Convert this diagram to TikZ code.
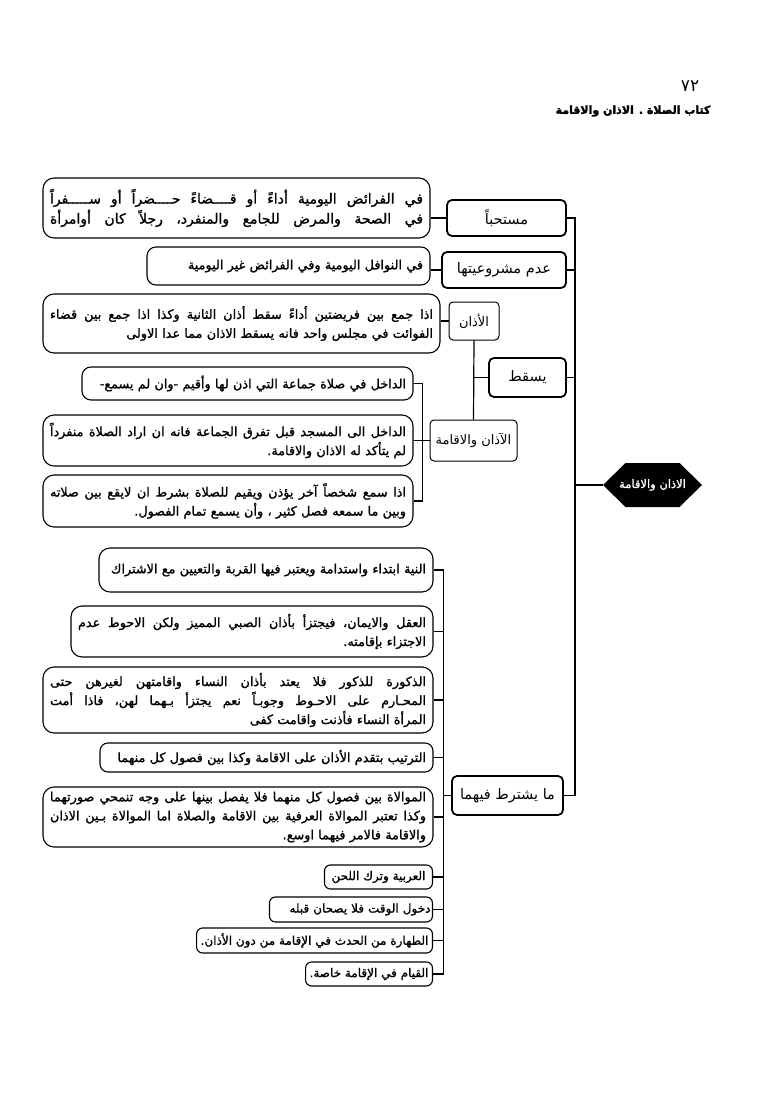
\documentclass[tikz,border=0pt]{standalone}
\usepackage{fontspec}
\setmainfont{DejaVu Sans}
\newfontfamily\arabicfont[Script=Arabic]{DejaVu Sans}
\newfontfamily\arabicbf[Script=Arabic,FakeBold=1.2]{DejaVu Sans}
\newfontfamily\arabicheavy[Script=Arabic,FakeBold=2.5]{DejaVu Sans Bold}
\TeXXeTstate=1
\usetikzlibrary{backgrounds}
\newcommand\AR[1]{\beginR #1\endR}
\newcommand\Ln[1]{\makebox[\linewidth][r]{\AR{#1}}}
\newcommand\Lj[1]{\leavevmode\hbox to \linewidth{\spaceskip=0.32em plus 2em\relax\beginR #1\endR}}
\newcommand\myT{\arabicbf\fontsize{12.8}{19}\selectfont}
\newcommand\myTb{\arabicbf\fontsize{14}{20}\selectfont}
\newcommand\myS{\arabicbf\fontsize{12}{14}\selectfont}
\newcommand\myL{\arabicfont\fontsize{14.5}{17}\selectfont}
\newcommand\myM{\arabicfont\fontsize{13}{15}\selectfont}
\begin{document}
\begin{tikzpicture}[x=1pt,y=-1pt,
  tb/.style n args={2}{draw, line width=1.1pt, rounded corners=11pt, fill=white,
    inner xsep=7pt, inner ysep=0pt, text width=#1, minimum height=#2,
    align=right, font=\myT},
  sb/.style n args={2}{draw, line width=1.1pt, rounded corners=6pt, fill=white,
    inner xsep=4pt, inner ysep=0pt, minimum width=#1, minimum height=#2, font=\myS, anchor=east},
  lone/.style={draw, line width=1.8pt, rounded corners=5pt, fill=white,
    inner sep=0pt, font=\myL},
  ltwo/.style={draw, line width=1pt, rounded corners=4pt, fill=white,
    inner sep=0pt, font=\myM},
  conn/.style={line width=1.2pt},
  busline/.style={line width=1.5pt}]
\useasboundingbox (0,0) rectangle (778,1118);

% header
\node[font=\arabicfont\fontsize{17}{17}\selectfont] (pnum) at (690,86) {٧٢};
\node[font=\arabicheavy\fontsize{11}{11}\selectfont] (head) at (633,111) {\AR{كتاب الصلاة . الاذان والاقامة}};

% root
\node[text=white, font=\arabicbf\fontsize{11.5}{12}\selectfont, inner sep=0pt] (root) at (652.5,485) {\AR{الاذان والاقامة}};
\begin{scope}[on background layer]
\fill ([xshift=-49.5pt]root.center) -- ([xshift=-27pt,yshift=22pt]root.center)
  -- ([xshift=27pt,yshift=22pt]root.center) -- ([xshift=49.5pt]root.center)
  -- ([xshift=27pt,yshift=-22pt]root.center) -- ([xshift=-27pt,yshift=-22pt]root.center) -- cycle;
\end{scope}
\coordinate (rootL) at (603,485);
\coordinate (busx) at (575,0);

% level one
\node[lone, minimum width=119pt, minimum height=36pt] (m1) at (506.5,218) {\AR{مستحباً}};
\node[lone, minimum width=124pt, minimum height=36pt] (m2) at (504,270) {\AR{عدم مشروعيتها}};
\node[lone, minimum width=77pt, minimum height=39pt] (m3) at (527.5,377.5) {\AR{يسقط}};
\node[lone, minimum width=111pt, minimum height=39pt] (m4) at (507.5,795.5) {\AR{ما يشترط فيهما}};

% level two
\node[ltwo, minimum width=50pt, minimum height=38pt] (n1) at (474,321) {\AR{الأذان}};
\node[ltwo, minimum width=87pt, minimum height=41pt] (n2) at (473.5,440.5) {\AR{الآذان والاقامة}};

% text boxes
\node[tb={373pt}{60pt}, font=\myTb] (t1) at (236.5,208) {\Lj{في الفرائض اليومية أداءً أو قــــضاءً حــــضراً أو ســـــفراً}\\\Lj{في الصحة والمرض للجامع والمنفرد، رجلاً كان أوامرأة}};
\node[tb={269pt}{38pt}, rounded corners=9pt] (t2) at (288.5,266) {\Ln{في النوافل اليومية وفي الفرائض غير اليومية}};
\node[tb={383pt}{59pt}] (t3) at (241.5,323.5) {\Lj{اذا جمع بين فريضتين أداءً سقط أذان الثانية وكذا اذا جمع بين قضاء}\\\Ln{الفوائت في مجلس واحد فانه يسقط الاذان مما عدا الاولى}};
\node[tb={317pt}{33pt}, rounded corners=9pt] (ta) at (247.5,383.5) {\Ln{الداخل في صلاة جماعة التي اذن لها وأقيم -وان لم يسمع-\hspace*{10pt}}};
\node[tb={356pt}{51pt}] (tb) at (228,440.5) {\Lj{الداخل الى المسجد قبل تفرق الجماعة فانه ان اراد الصلاة منفرداً}\\\Ln{لم يتأكد له الاذان والاقامة.}};
\node[tb={356pt}{52pt}] (tc) at (228,501) {\Lj{اذا سمع شخصاً آخر يؤذن ويقيم للصلاة بشرط ان لايقع بين صلاته}\\\Ln{وبين ما سمعه فصل كثير ، وأن يسمع  تمام الفصول.}};

\node[tb={320pt}{44pt}] (p1) at (266,570) {\Ln{النية ابتداء واستدامة ويعتبر فيها القربة والتعيين مع الاشتراك}};
\node[tb={348pt}{51pt}] (p2) at (252,631.5) {\Lj{العقل والايمان، فيجتزأ بأذان الصبي المميز ولكن الاحوط عدم}\\\Ln{الاجتزاء بإقامته.}};
\node[tb={376pt}{66pt}] (p3) at (238,700) {\Lj{الذكورة للذكور فلا يعتد بأذان النساء واقامتهن لغيرهن حتى}\\\Lj{المحـارم على الاحـوط وجوبـاً نعم يجتزأ بـهما لهن، فاذا أمت}\\\Ln{المرأة النساء فأذنت واقامت كفى}};
\node[tb={319pt}{29pt}, rounded corners=8pt] (p4) at (266.5,757.5) {\Ln{الترتيب بتقدم الأذان على الاقامة وكذا بين فصول كل منهما\hspace*{8pt}}};
\node[tb={376pt}{60pt}] (p5) at (238,817) {\Lj{الموالاة بين فصول كل منهما فلا يفصل بينها على وجه تنمحي صورتهما}\\\Lj{وكذا تعتبر الموالاة العرفية بين الاقامة والصلاة اما الموالاة بـين الاذان}\\\Ln{والاقامة فالامر فيهما اوسع.}};
\node[sb={108pt}{24pt}] (p6) at (433,877) {\AR{العربية وترك اللحن}};
\node[sb={163pt}{25pt}, inner xsep=2pt, align=right, text width=159pt] (p7) at (433,909.5) {\AR{دخول الوقت فلا يصحان قبله}};
\node[sb={228pt}{25pt}] (p8) at (433,940.5) {\AR{الطهارة من الحدث في الإقامة من دون الأذان.}};
\node[sb={108pt}{24pt}] (p9) at (433,974) {\AR{القيام في الإقامة خاصة.}};

% connectors: main bus
\draw[busline] (m1.east) -- (m1.east -| busx) |- (m4.east);
\draw[conn] (m2.east) -- (m2.east -| busx);
\draw[conn] (m3.east) -- (m3.east -| busx);
\draw[conn] (rootL) -- (rootL -| busx);

\draw[conn] (t1.east |- m1.west) -- (m1.west);
\draw[conn] (t2.east |- m2.west) -- (m2.west);

% يسقط branch
\draw[conn] (n1.south) -- (n2.north);
\draw[conn] (m3.west) -- (m3.west -| n1.south);
\draw[conn] (t3.east |- n1.west) -- (n1.west);
\draw[conn] (ta.east) -- ++(9,0) coordinate (b2) |- (tc.east);
\draw[conn] (tb.east) -- (n2.west);

% ما يشترط branch
\draw[busline] (p1.east) -- ++(10,0) coordinate (b3) |- (p9.east);
\foreach \p in {p2,p3,p4,p5,p6,p7,p8}{\draw[conn] (\p.east) -- (\p.east -| b3);}
\draw[conn] (m4.west) -- (m4.west -| b3);
\end{tikzpicture}
\end{document}
